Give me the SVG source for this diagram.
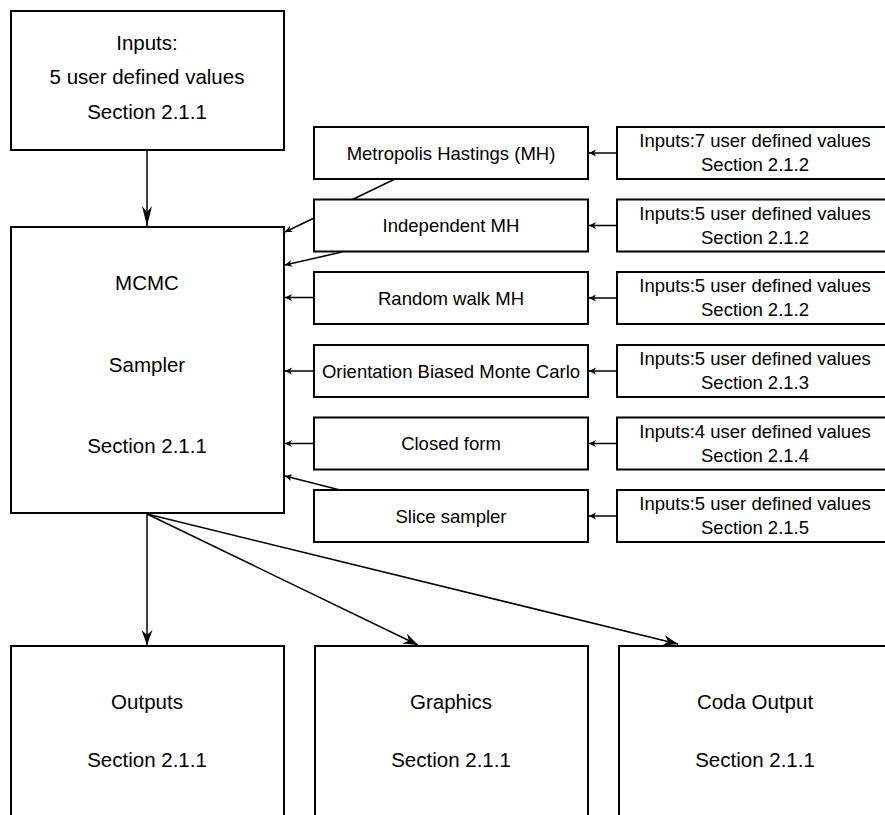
<svg xmlns="http://www.w3.org/2000/svg" width="885" height="815" viewBox="0 0 885 815">
  <style>
    .box { fill: #fff; stroke: #000; stroke-width: 2; }
    .lg { font-family: "Liberation Sans", Arial, sans-serif; font-size: 20.5px; fill: #000; text-anchor: middle; }
    .sm { font-family: "Liberation Sans", Arial, sans-serif; font-size: 18.5px; fill: #000; text-anchor: middle; }
    .edge { fill: none; stroke: #000; stroke-width: 1.5; }
  </style>
  <defs>
    <marker id="big" viewBox="-16 -6 17 12" refX="0" refY="0" markerWidth="17" markerHeight="12" markerUnits="userSpaceOnUse" orient="auto">
      <path d="M0,0 L-15,-5.5 L-10,0 L-15,5.5 Z" fill="#000"/>
    </marker>
    <marker id="tall" viewBox="-21 -6 22 12" refX="0" refY="0" markerWidth="22" markerHeight="12" markerUnits="userSpaceOnUse" orient="auto">
      <path d="M0,0 L-20,-5 L-14,0 L-20,5 Z" fill="#000"/>
    </marker>
    <marker id="small" viewBox="-8 -4 9 8" refX="0" refY="0" markerWidth="9" markerHeight="8" markerUnits="userSpaceOnUse" orient="auto">
      <path d="M0,0 L-7,-3.5 L-5,0 L-7,3.5 Z" fill="#000"/>
    </marker>
  </defs>

  <!-- connectors (drawn first so the boxes sit on top) -->
  <g id="connectors">
    <line class="edge" x1="147" y1="151" x2="147" y2="226" marker-end="url(#tall)"/>
    <!-- method boxes into the sampler -->
    <line class="edge" x1="395" y1="179" x2="285" y2="232" marker-end="url(#small)"/>
    <line class="edge" x1="342" y1="252" x2="285" y2="265" marker-end="url(#small)"/>
    <line class="edge" x1="314" y1="297.5" x2="285" y2="297.5" marker-end="url(#small)"/>
    <line class="edge" x1="314" y1="371" x2="285" y2="371" marker-end="url(#small)"/>
    <line class="edge" x1="314" y1="443.5" x2="285" y2="443.5" marker-end="url(#small)"/>
    <line class="edge" x1="340" y1="490" x2="285" y2="476" marker-end="url(#small)"/>
    <!-- input boxes into the methods -->
    <line class="edge" x1="617" y1="153" x2="589" y2="153" marker-end="url(#small)"/>
    <line class="edge" x1="617" y1="225.5" x2="589" y2="225.5" marker-end="url(#small)"/>
    <line class="edge" x1="617" y1="298" x2="589" y2="298" marker-end="url(#small)"/>
    <line class="edge" x1="617" y1="371" x2="589" y2="371" marker-end="url(#small)"/>
    <line class="edge" x1="617" y1="443.5" x2="589" y2="443.5" marker-end="url(#small)"/>
    <line class="edge" x1="617" y1="516" x2="589" y2="516" marker-end="url(#small)"/>
    <!-- sampler to outputs -->
    <line class="edge" x1="147" y1="514" x2="147" y2="645" marker-end="url(#big)"/>
    <line class="edge" x1="147" y1="514" x2="418" y2="645" marker-end="url(#big)"/>
    <line class="edge" x1="147" y1="514" x2="678" y2="644" marker-end="url(#big)"/>
  </g>

  <g id="inputs-main">
    <rect class="box" x="11" y="11" width="273" height="139"/>
    <text class="lg" x="147" y="50">Inputs:</text>
    <text class="lg" x="147" y="84">5 user defined values</text>
    <text class="lg" x="147" y="119">Section 2.1.1</text>
  </g>

  <g id="mcmc-sampler">
    <rect class="box" x="11" y="227" width="273" height="286"/>
    <text class="lg" x="147" y="290">MCMC</text>
    <text class="lg" x="147" y="372">Sampler</text>
    <text class="lg" x="147" y="453">Section 2.1.1</text>
  </g>

  <g id="mh">
    <rect class="box" x="314" y="127" width="274" height="52"/>
    <text class="sm" x="451" y="159.5">Metropolis Hastings (MH)</text>
  </g>
  <g id="independent-mh">
    <rect class="box" x="314" y="199.5" width="274" height="52"/>
    <text class="sm" x="451" y="232">Independent MH</text>
  </g>
  <g id="random-walk-mh">
    <rect class="box" x="314" y="272" width="274" height="52"/>
    <text class="sm" x="451" y="304.5">Random walk MH</text>
  </g>
  <g id="obmc">
    <rect class="box" x="314" y="345" width="274" height="52"/>
    <text class="sm" x="451" y="377.5">Orientation Biased Monte Carlo</text>
  </g>
  <g id="closed-form">
    <rect class="box" x="314" y="417.5" width="274" height="52"/>
    <text class="sm" x="451" y="450">Closed form</text>
  </g>
  <g id="slice-sampler">
    <rect class="box" x="314" y="490" width="274" height="52"/>
    <text class="sm" x="451" y="522.5">Slice sampler</text>
  </g>

  <g id="inputs-mh">
    <rect class="box" x="617" y="127" width="276" height="52"/>
    <text class="sm" x="755" y="147">Inputs:7 user defined values</text>
    <text class="sm" x="755" y="171">Section 2.1.2</text>
  </g>
  <g id="inputs-independent">
    <rect class="box" x="617" y="199.5" width="276" height="52"/>
    <text class="sm" x="755" y="219.5">Inputs:5 user defined values</text>
    <text class="sm" x="755" y="243.5">Section 2.1.2</text>
  </g>
  <g id="inputs-random-walk">
    <rect class="box" x="617" y="272" width="276" height="52"/>
    <text class="sm" x="755" y="292">Inputs:5 user defined values</text>
    <text class="sm" x="755" y="316">Section 2.1.2</text>
  </g>
  <g id="inputs-obmc">
    <rect class="box" x="617" y="345" width="276" height="52"/>
    <text class="sm" x="755" y="365">Inputs:5 user defined values</text>
    <text class="sm" x="755" y="389">Section 2.1.3</text>
  </g>
  <g id="inputs-closed-form">
    <rect class="box" x="617" y="417.5" width="276" height="52"/>
    <text class="sm" x="755" y="437.5">Inputs:4 user defined values</text>
    <text class="sm" x="755" y="461.5">Section 2.1.4</text>
  </g>
  <g id="inputs-slice">
    <rect class="box" x="617" y="490" width="276" height="52"/>
    <text class="sm" x="755" y="510">Inputs:5 user defined values</text>
    <text class="sm" x="755" y="534">Section 2.1.5</text>
  </g>

  <g id="outputs">
    <rect class="box" x="11" y="646" width="273" height="180"/>
    <text class="lg" x="147" y="709">Outputs</text>
    <text class="lg" x="147" y="767">Section 2.1.1</text>
  </g>
  <g id="graphics">
    <rect class="box" x="315" y="646" width="273" height="180"/>
    <text class="lg" x="451" y="709">Graphics</text>
    <text class="lg" x="451" y="767">Section 2.1.1</text>
  </g>
  <g id="coda-output">
    <rect class="box" x="619" y="646" width="276" height="180"/>
    <text class="lg" x="755" y="709">Coda Output</text>
    <text class="lg" x="755" y="767">Section 2.1.1</text>
  </g>
</svg>
